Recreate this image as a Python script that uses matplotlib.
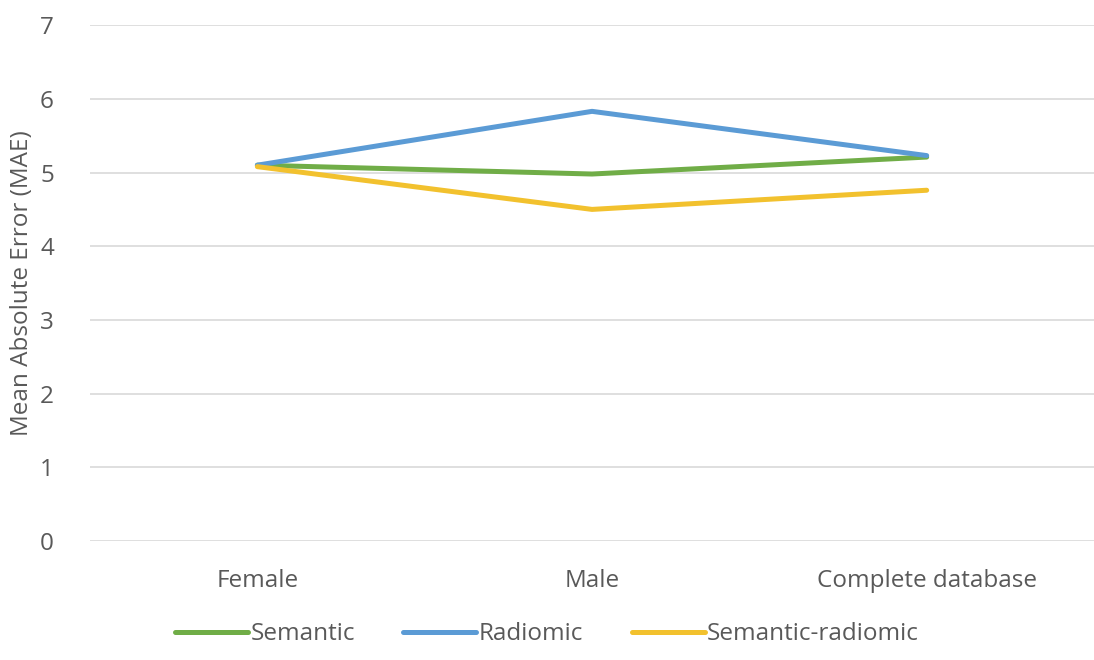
import matplotlib.pyplot as plt

# MAE per subgroup for each feature set
groups = ['Female', 'Male', 'Complete database']
semantic = [5.10, 4.98, 5.21]
radiomic = [5.10, 5.83, 5.23]
semantic_radiomic = [5.08, 4.50, 4.76]

plt.rcParams['font.family'] = ['Open Sans', 'DejaVu Sans']

fig = plt.figure(figsize=(10.94, 6.6), dpi=100)
ax = fig.add_axes([0.0823, 0.180, 0.9177, 0.782])

x = range(len(groups))
ax.plot(x, semantic, color='#70AD47', lw=3.6, label='Semantic', solid_capstyle='round')
ax.plot(x, radiomic, color='#5B9BD5', lw=3.6, label='Radiomic', solid_capstyle='round')
ax.plot(x, semantic_radiomic, color='#F2C12E', lw=3.6, label='Semantic-radiomic', solid_capstyle='round')

ax.set_xlim(-0.5, len(groups) - 0.5)
ax.set_ylim(0, 7)
ax.set_yticks(range(8))
ax.set_xticks(list(x))
ax.set_xticklabels(groups)
ax.yaxis.grid(True, color='#D9D9D9', lw=1.2)
ax.set_axisbelow(True)
for s in ax.spines.values():
    s.set_visible(False)
ax.tick_params(length=0, labelsize=17.5, labelcolor='#595959')
ax.tick_params(axis='y', pad=26)
ax.tick_params(axis='x', pad=20)
ax.set_ylabel('Mean Absolute Error (MAE)', fontsize=17.5, color='#595959', labelpad=4)

leg = fig.legend(loc='lower center', bbox_to_anchor=(0.5, -0.012), ncol=3, frameon=False,
                 fontsize=17.5, handlelength=3.0, handletextpad=0.1, columnspacing=2.0)
for t in leg.get_texts():
    t.set_color('#595959')

fig.savefig('out.png', dpi=100)
